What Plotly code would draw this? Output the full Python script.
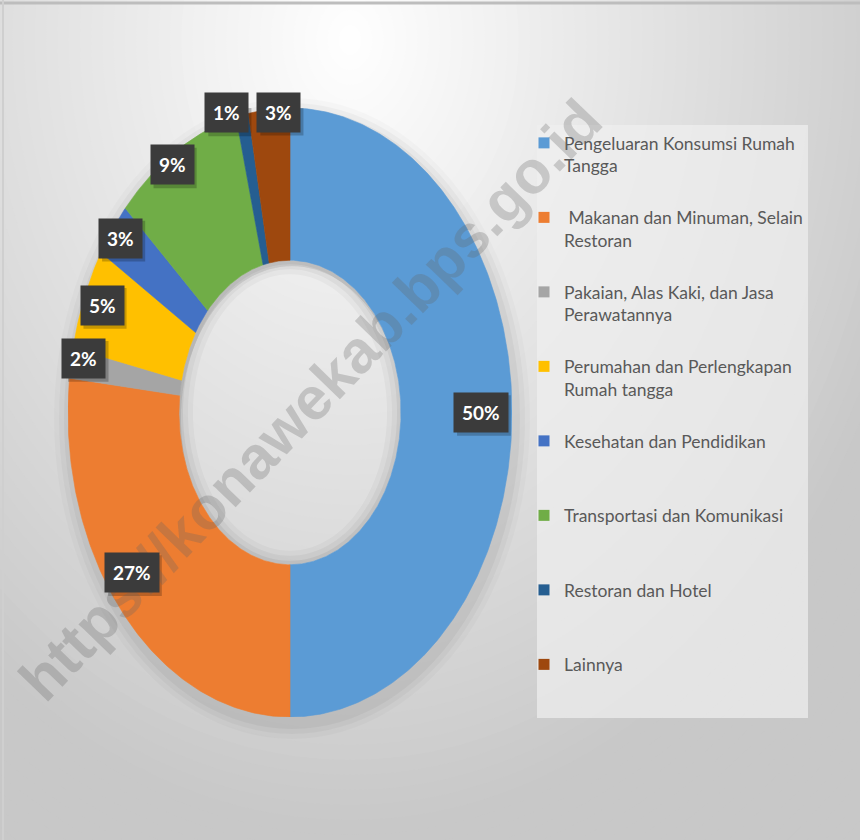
import numpy as np
import plotly.graph_objects as go

# ---------------- data ----------------
categories = [
    "Pengeluaran Konsumsi Rumah<br>Tangga",
    "\u00a0Makanan dan Minuman, Selain<br>Restoran",
    "Pakaian, Alas Kaki, dan Jasa<br>Perawatannya",
    "Perumahan dan Perlengkapan<br>Rumah tangga",
    "Kesehatan dan Pendidikan",
    "Transportasi dan Komunikasi",
    "Restoran dan Hotel",
    "Lainnya",
]
values = [50.0, 26.8, 1.6, 5.4, 2.9, 9.4, 0.9, 3.0]

# ---------------- styles ----------------
colors = ["#5B9BD5", "#ED7D31", "#A5A5A5", "#FFC000",
          "#4472C4", "#70AD47", "#255E91", "#9E480E"]
label_r = [0.86, 0.885, 0.945, 0.917, 0.954, 0.971, 1.024, 0.988]
label_dtheta = [0.0, 5.3, 1.5, 0.6, 0.0, -2.2, -3.7, 2.5]
HOLE = 0.5
W, H = 860, 840
CX, CY, RX, RY = 290.0, 412.5, 222.0, 304.5  # donut placement in px
FONT = "Lato, Roboto, sans-serif"
LBL_SIZE, LBL_PAD = 19, 8

fig = go.Figure()

total = float(sum(values))
fracs = np.array(values) / total
cum = np.concatenate([[0.0], np.cumsum(fracs)])

# donut slices (clockwise from 12 o'clock) on an x/y scale
for i, (name, v) in enumerate(zip(categories, values)):
    f0, f1 = cum[i], cum[i + 1]
    n = max(4, int(600 * (f1 - f0)))
    t = np.linspace(f0, f1, n) * 2 * np.pi
    xo, yo = np.sin(t), np.cos(t)
    xi, yi = HOLE * np.sin(t[::-1]), HOLE * np.cos(t[::-1])
    xs = np.concatenate([xo, xi, xo[:1]])
    ys = np.concatenate([yo, yi, yo[:1]])
    fig.add_trace(go.Scatter(
        x=xs, y=ys, mode="lines", fill="toself",
        fillcolor=colors[i], line=dict(color=colors[i], width=0.6),
        hoverinfo="text", text=f"{name.replace('<br>', ' ')}: {v}%",
        showlegend=False,
    ))

# legend entries (square swatches)
for i, name in enumerate(categories):
    lbl = name if "<br>" in name else name + "<br>\u00a0"
    fig.add_trace(go.Scatter(
        x=[None], y=[None], mode="markers",
        marker=dict(symbol="square", size=11, color=colors[i]),
        name=lbl, legendgroup=f"g{i}", showlegend=True,
    ))

# ---------------- background gradient ----------------
shapes = []
cxg, cyg, sx = 350.0, 40.0, 0.75
def shade(d):
    c = max(200.0, 255 - 55 * d / 800.0)
    c = int(round(c))
    return f"rgb({c},{c},{c})"
for d in np.arange(1200, 0, -15):
    rx, ry = d * sx, d
    shapes.append(dict(
        type="circle", xref="paper", yref="paper", layer="below",
        x0=(cxg - rx) / W, x1=(cxg + rx) / W,
        y0=1 - (cyg + ry) / H, y1=1 - (cyg - ry) / H,
        fillcolor=shade(d), line=dict(width=0),
    ))

def ring_path(cx, cy, rxo, ryo, rxi, ryi, n=120):
    t = np.linspace(0, 2 * np.pi, n, endpoint=False)
    def poly(rx, ry):
        px = (cx + rx * np.sin(t)) / W
        py = 1 - (cy - ry * np.cos(t)) / H
        return "M" + "L".join(f"{a:.5f},{b:.5f}" for a, b in zip(px, py)) + "Z"
    return poly(rxo, ryo) + poly(rxi, ryi)

# soft shadow around donut (ring only, hole untouched)
for k, a in [(16, 0.02), (11, 0.03), (6, 0.04)]:
    shapes.append(dict(
        type="path", xref="paper", yref="paper", layer="below",
        path=ring_path(CX + 2, CY + 6, RX + k, RY + k, RX * HOLE, RY * HOLE),
        fillrule="evenodd", fillcolor=f"rgba(0,0,0,{a})", line=dict(width=0),
    ))
# inner shadow in the hole
for k, a in [(0, 0.05), (5, 0.04), (10, 0.03)]:
    shapes.append(dict(
        type="path", xref="paper", yref="paper", layer="below",
        path=ring_path(CX, CY, RX * HOLE, RY * HOLE,
                       RX * HOLE - 4 - k, RY * HOLE - 4 - k),
        fillrule="evenodd", fillcolor=f"rgba(0,0,0,{a})", line=dict(width=0),
    ))
# legend panel
shapes.append(dict(type="rect", xref="paper", yref="paper", layer="below",
                   x0=537 / W, x1=808 / W, y0=1 - 718 / H, y1=1 - 125 / H,
                   fillcolor="rgba(240,240,240,0.7)", line=dict(width=0)))
# frame lines top / left
shapes.append(dict(type="line", xref="paper", yref="paper", x0=0, x1=1,
                   y0=1 - 3 / H, y1=1 - 3 / H, line=dict(color="#bdbdbd", width=3)))
shapes.append(dict(type="line", xref="paper", yref="paper", x0=3 / W, x1=3 / W,
                   y0=0, y1=1, line=dict(color="#cfcfcf", width=2)))

# ---------------- annotations ----------------
annotations = []
# watermark
annotations.append(dict(
    text="<b>https://konawekab.bps.go.id</b>", xref="paper", yref="paper",
    x=310 / W, y=1 - 400 / H, showarrow=False, textangle=-46,
    font=dict(family="Liberation Sans, Arial, sans-serif", size=60,
              color="rgba(100,100,100,0.28)"),
))
# data labels with drop shadow (shadow drawn as pixel-sized shape)
for i, v in enumerate(values):
    mid = (cum[i] + cum[i + 1]) / 2 * 360 + label_dtheta[i]
    th = np.deg2rad(mid)
    lx, ly = label_r[i] * np.sin(th), label_r[i] * np.cos(th)
    s = f"{round(v)}%"
    bw = 10.6 * (len(s) - 1) + 16.5 + 2 * LBL_PAD
    bh = LBL_SIZE * 1.3 + 2 * LBL_PAD
    shapes.append(dict(
        type="rect", xref="x", yref="y", layer="above",
        xsizemode="pixel", ysizemode="pixel", xanchor=lx, yanchor=ly,
        x0=-bw / 2 + 3, x1=bw / 2 + 3, y0=-bh / 2 - 3, y1=bh / 2 - 3,
        fillcolor="rgba(0,0,0,0.22)", line=dict(width=0),
    ))
    annotations.append(dict(
        x=lx, y=ly, xref="x", yref="y", text=f"<b>{s}</b>", showarrow=False,
        bgcolor="#3b3b3b", borderpad=LBL_PAD,
        font=dict(family=FONT, size=LBL_SIZE, color="white"),
    ))

fig.update_layout(
    width=W, height=H, autosize=False,
    margin=dict(l=0, r=0, t=0, b=0),
    paper_bgcolor=shade(1200), plot_bgcolor="rgba(0,0,0,0)",
    xaxis=dict(domain=[(CX - RX) / W, (CX + RX) / W], range=[-1, 1],
               visible=False, fixedrange=True),
    yaxis=dict(domain=[1 - (CY + RY) / H, 1 - (CY - RY) / H], range=[-1, 1],
               visible=False, fixedrange=True),
    shapes=shapes,
    annotations=annotations,
    legend=dict(
        x=524 / W, y=1 - 125 / H, xanchor="left", yanchor="top",
        bgcolor="rgba(0,0,0,0)", borderwidth=0,
        font=dict(family=FONT, size=17.5, color="#595959"),
        valign="top", tracegroupgap=26, itemclick=False,
    ),
    showlegend=True,
)

fig.write_html("out.html", config={"displayModeBar": False},
               post_script="document.body.style.margin='0';")
